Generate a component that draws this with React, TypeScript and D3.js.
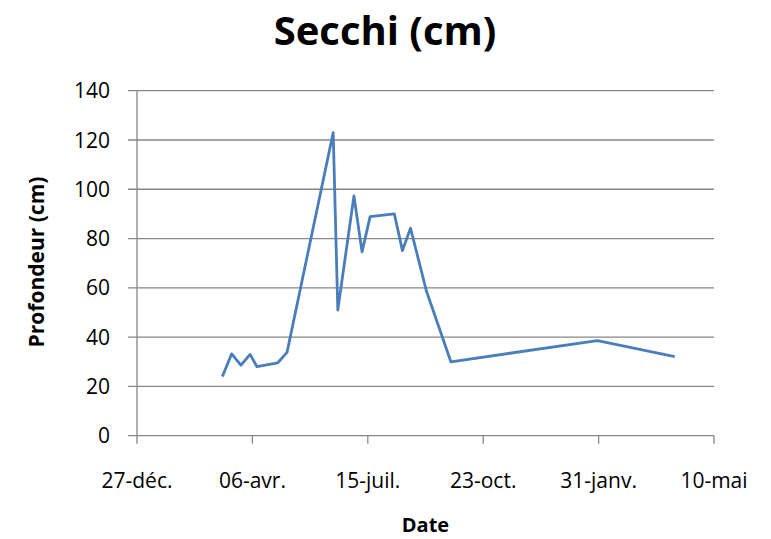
import React from "react";
import * as d3 from "d3";

const dates = [
  "2011-03-11", "2011-03-19", "2011-03-27", "2011-04-04", "2011-04-10",
  "2011-04-28", "2011-05-06", "2011-06-15", "2011-06-19", "2011-07-03",
  "2011-07-10", "2011-07-17", "2011-08-07", "2011-08-14", "2011-08-21",
  "2011-09-04", "2011-09-25", "2012-01-30", "2012-04-06",
];
const secchi = [
  24, 33.2, 28.6, 33, 28, 29.6, 33.8, 123, 51, 97.3, 74.6, 88.9, 90, 75.1,
  84.2, 58.4, 30, 38.6, 32.1,
];
const xTickDates = [
  "2010-12-27", "2011-04-06", "2011-07-15", "2011-10-23", "2012-01-31", "2012-05-10",
];
const xTickLabels = ["27-déc.", "06-avr.", "15-juil.", "23-oct.", "31-janv.", "10-mai"];
const yTicks = [0, 20, 40, 60, 80, 100, 120, 140];

const W = 771;
const H = 539;
const left = 137;
const right = 714;
const top = 90.7;
const bottom = 435.7;
const FONT = "'Open Sans', 'Liberation Sans', sans-serif";
const GRID = "#868686";

export default function App() {
  const parse = (s: string) => new Date(s + "T00:00:00Z");
  const x = d3
    .scaleUtc()
    .domain([parse(xTickDates[0]), parse(xTickDates[xTickDates.length - 1])])
    .range([left, right]);
  const y = d3.scaleLinear().domain([0, 140]).range([bottom, top]);
  const pts = dates.map((d, i) => [parse(d), secchi[i]] as [Date, number]);
  const line = d3
    .line<[Date, number]>()
    .x((d) => x(d[0]))
    .y((d) => y(d[1]));

  return (
    <svg
      width={W}
      height={H}
      style={{ position: "absolute", left: 0, top: 0, background: "#fff" }}
      fontFamily={FONT}
    >
      <rect x={0} y={0} width={W} height={H} fill="#fff" />
      <text x={385} y={45} textAnchor="middle" fontSize={40} fontWeight="bold" fill="#000">
        Secchi (cm)
      </text>
      {yTicks.map((t) => (
        <g key={t}>
          <line x1={128} x2={right} y1={y(t)} y2={y(t)} stroke={GRID} strokeWidth={1.3} />
          <text x={110} y={y(t)} dy="0.36em" textAnchor="end" fontSize={21} fill="#000">
            {t}
          </text>
        </g>
      ))}
      <line x1={left} x2={left} y1={top} y2={bottom} stroke={GRID} strokeWidth={1.3} />
      {xTickDates.map((d, i) => (
        <g key={d}>
          <line x1={x(parse(d))} x2={x(parse(d))} y1={bottom} y2={bottom + 8} stroke={GRID} strokeWidth={1.3} />
          <text x={x(parse(d))} y={488} textAnchor="middle" fontSize={21} fill="#000">
            {xTickLabels[i]}
          </text>
        </g>
      ))}
      <path d={line(pts) || ""} fill="none" stroke="#4A7EBB" strokeWidth={2.8} strokeLinejoin="round" />
      <text
        transform={`translate(44,262) rotate(-90)`}
        textAnchor="middle"
        fontSize={21}
        fontWeight="bold"
        fill="#000"
      >
        Profondeur (cm)
      </text>
      <text x={425.5} y={532} textAnchor="middle" fontSize={20} fontWeight="bold" fill="#000">
        Date
      </text>
    </svg>
  );
}
